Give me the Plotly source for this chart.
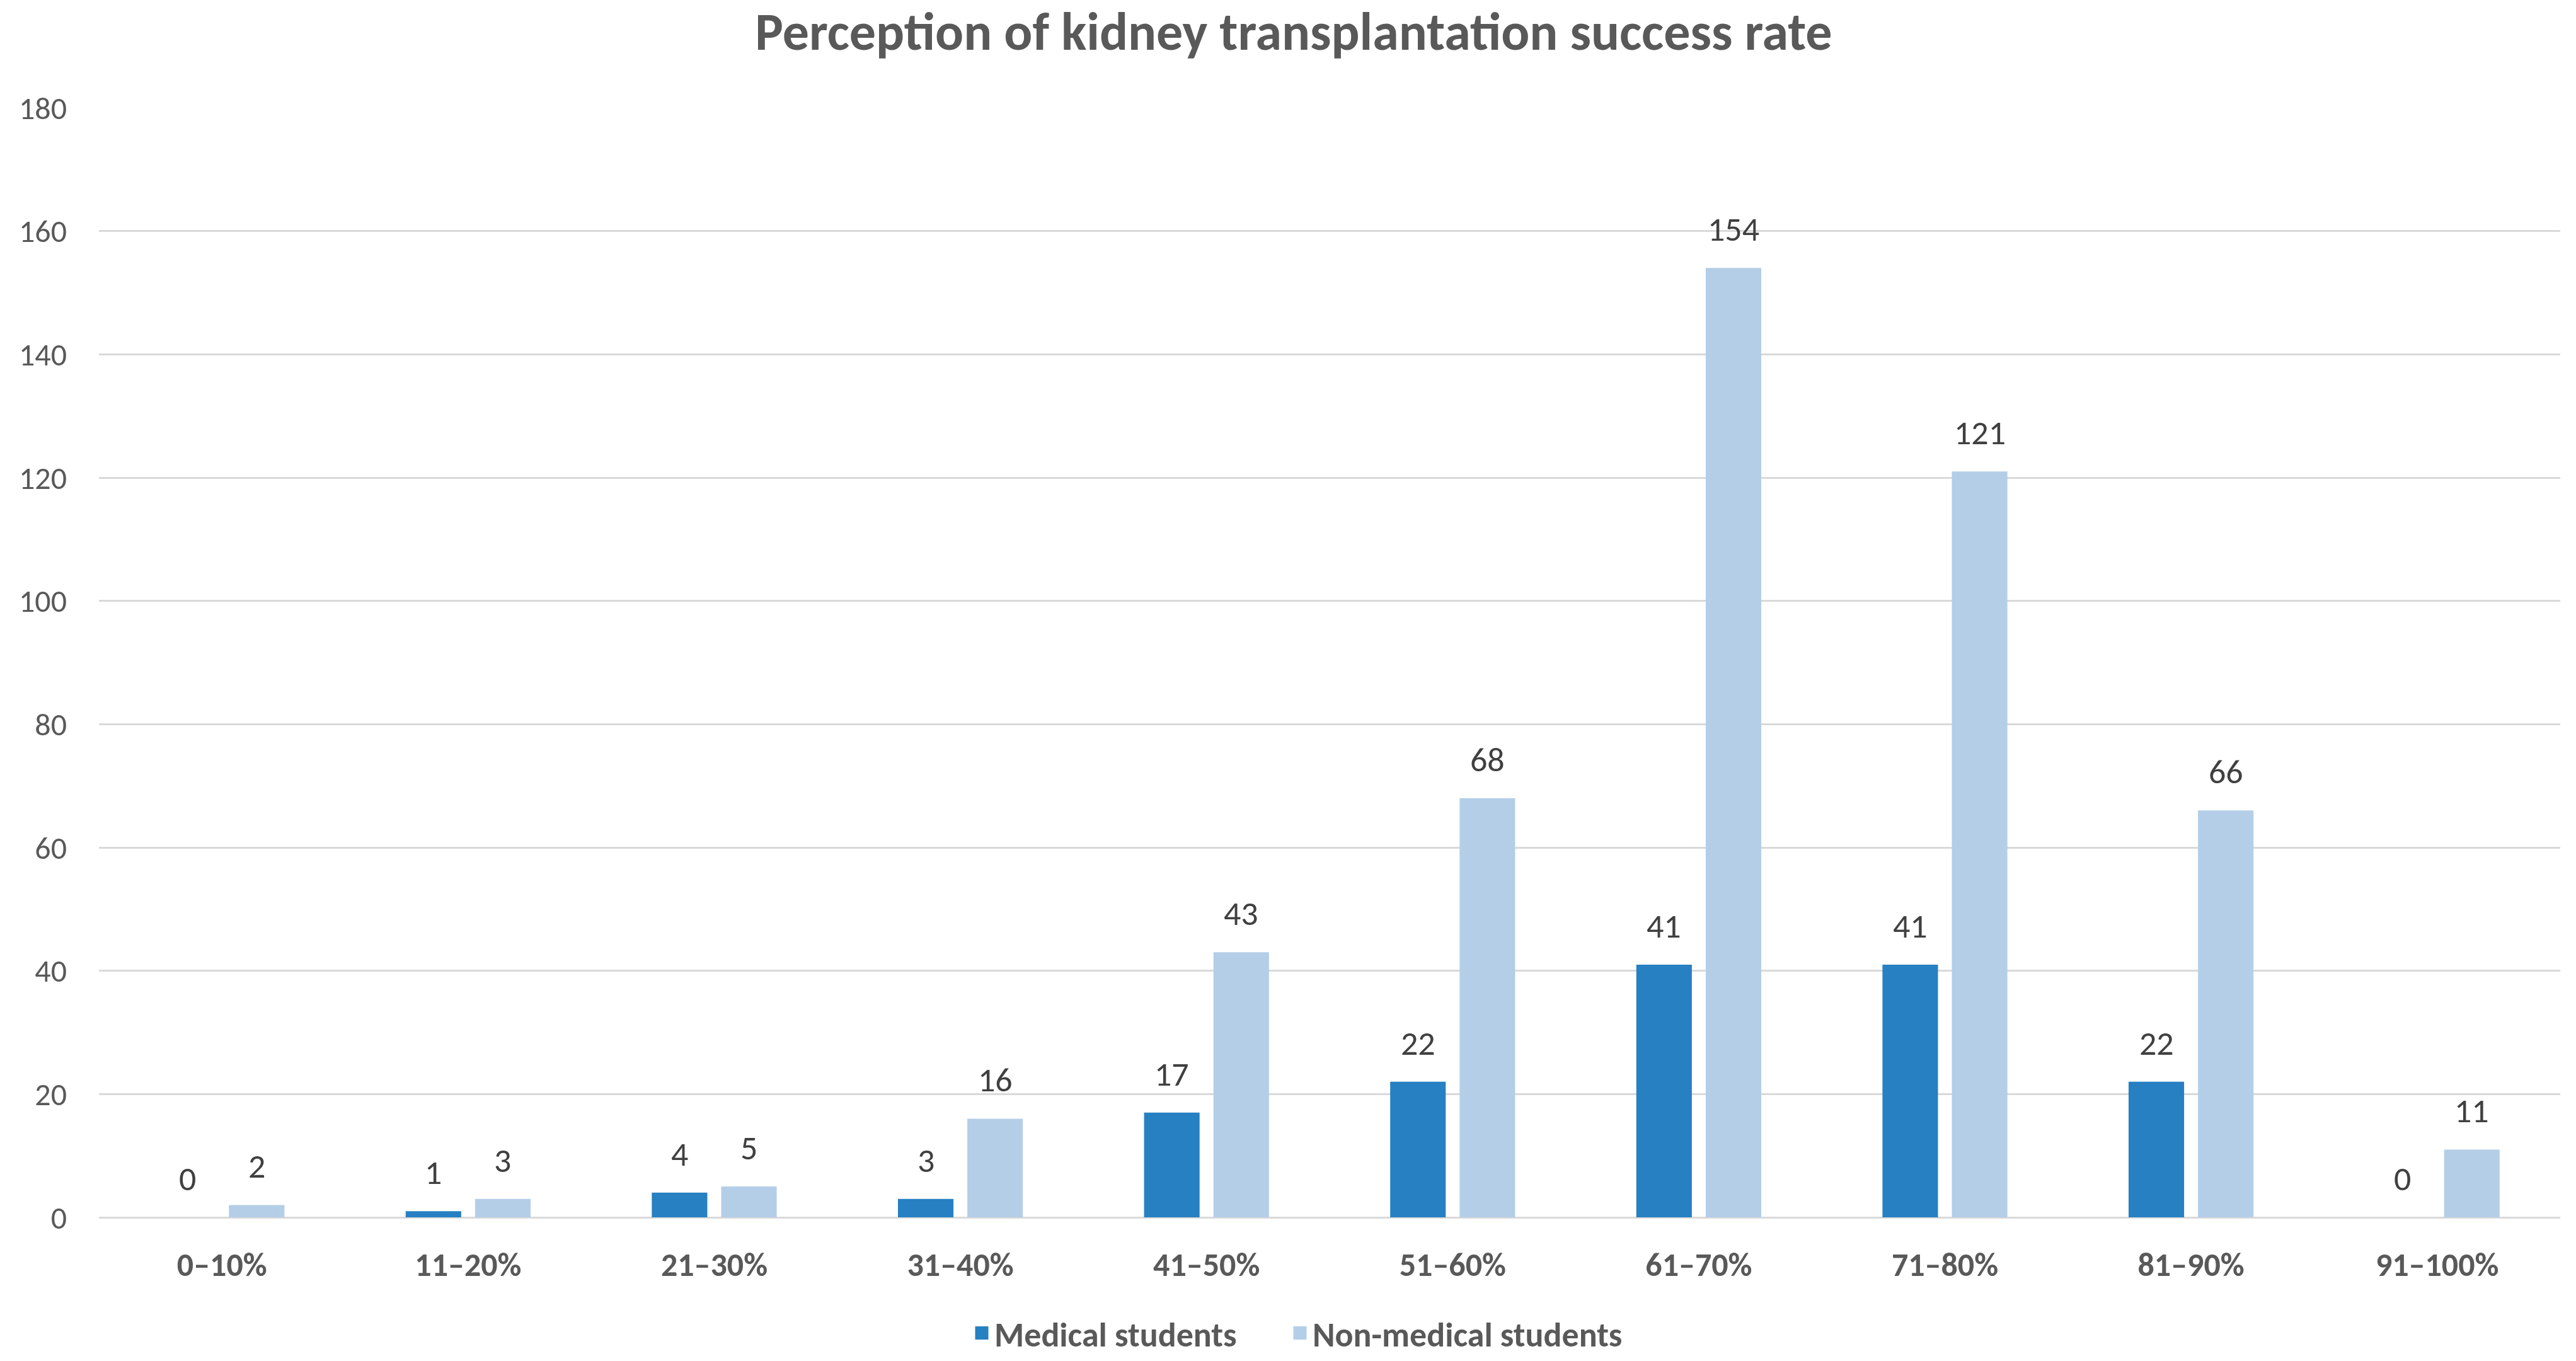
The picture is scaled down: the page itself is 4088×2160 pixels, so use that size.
import plotly.graph_objects as go

categories = ["0–10%", "11–20%", "21–30%", "31–40%", "41–50%",
              "51–60%", "61–70%", "71–80%", "81–90%", "91–100%"]
medical = [0, 1, 4, 3, 17, 22, 41, 41, 22, 0]
non_medical = [2, 3, 5, 16, 43, 68, 154, 121, 66, 11]
series_names = ["Medical students", "Non-medical students"]
y_ticks = [0, 20, 40, 60, 80, 100, 120, 140, 160, 180]

FONT = "Carlito, Lato, sans-serif"
C_MED = "#2680C2"
C_NON = "#B4CEE7"
GRAY = "#595959"

# figure sized to fit inside the page's default 8px body margin
W, H = 4072, 2144

bargap = 0.436
bargroupgap = 0.2
slot = (1 - bargap) / 2

xs = list(range(len(categories)))

fig = go.Figure()
for vals, name, col in ((medical, series_names[0], C_MED), (non_medical, series_names[1], C_NON)):
    fig.add_trace(go.Bar(x=xs, y=vals, name=name, marker_color=col,
                         marker_line_width=0, showlegend=False, legendgroup=name))
# legend entries with larger square swatches, one legend box per series
for name, col, lg in ((series_names[0], C_MED, "legend"), (series_names[1], C_NON, "legend2")):
    fig.add_trace(go.Scatter(x=[None], y=[None], mode="markers", name=name, legendgroup=name,
                             legend=lg,
                             marker=dict(symbol="square", size=16, color=col,
                                         line=dict(color=col, width=5))))

annotations = []
for vals, sign in ((medical, -1), (non_medical, 1)):
    for i, v in zip(xs, vals):
        annotations.append(dict(
            x=i + sign * slot / 2, y=v, xref="x", yref="y",
            text=str(v), showarrow=False, yanchor="bottom", yshift=26,
            font=dict(family=FONT, size=54, color="#404040"),
        ))

legend_style = dict(orientation="h", xref="container", xanchor="left",
                    y=1 - 2108 / H, yref="container", yanchor="middle",
                    font=dict(family=FONT, size=54, color=GRAY, weight="bold"),
                    itemwidth=30, bgcolor="rgba(0,0,0,0)")

fig.update_layout(
    width=W, height=H,
    paper_bgcolor="white", plot_bgcolor="white",
    barmode="group", bargap=bargap, bargroupgap=bargroupgap,
    margin=dict(l=149, r=17, t=163, b=220),
    title=dict(text="<b>Perception of kidney transplantation success rate</b>",
               x=2045 / W, xref="container", xanchor="center", y=1 - 42 / H, yanchor="middle",
               font=dict(family=FONT, size=84, color=GRAY)),
    xaxis=dict(tickmode="array", tickvals=xs,
               ticktext=["<b>%s</b>" % c for c in categories],
               range=[-0.5, len(categories) - 0.5],
               showgrid=False, zeroline=False, showline=False, ticks="",
               ticklabelstandoff=40,
               tickfont=dict(family=FONT, size=52, color=GRAY)),
    yaxis=dict(range=[0, 180], tickmode="array", tickvals=y_ticks,
               showgrid=True, gridcolor="#D9D9D9", gridwidth=3,
               zeroline=True, zerolinecolor="#D9D9D9", zerolinewidth=3,
               showline=False, ticks="", ticklabelstandoff=50,
               tickfont=dict(family=FONT, size=50, color=GRAY)),
    legend=dict(x=1530 / W, **legend_style),
    legend2=dict(x=2035 / W, **legend_style),
    annotations=annotations,
)

fig.write_html("out.html")
